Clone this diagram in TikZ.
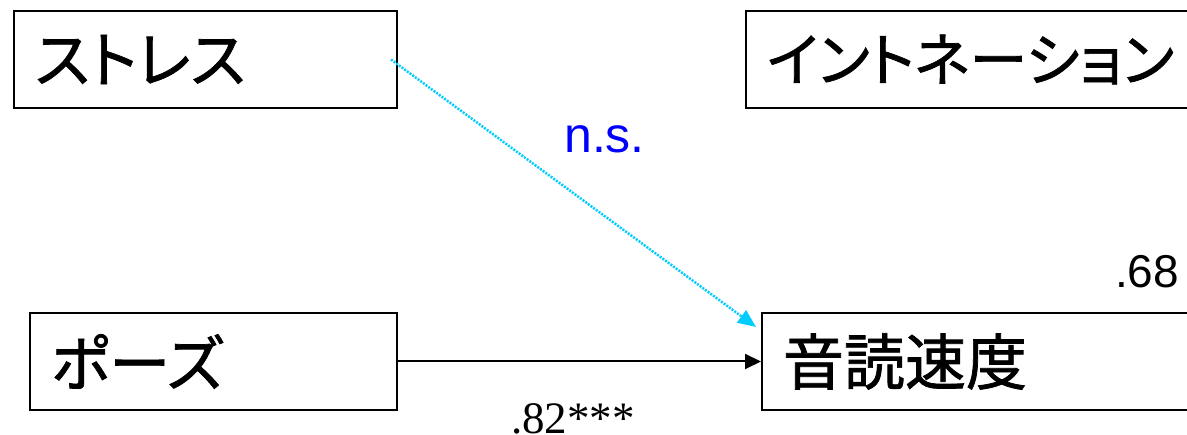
\documentclass[tikz,border=0pt]{standalone}
\usepackage{fontspec}
\setmainfont{Liberation Sans}
\newfontfamily\jpfont[RawFeature=+palt,FakeBold=1.2]{Noto Sans CJK JP}
\newfontfamily\timesfont{Liberation Serif}
\usetikzlibrary{arrows.meta}
\definecolor{nscyan}{RGB}{0,204,255}
\definecolor{nsblue}{RGB}{0,0,255}
\begin{document}
\begin{tikzpicture}[x=1pt,y=-1pt,
  varbox/.style={draw,line width=2pt,anchor=north west,minimum height=97pt,
    inner xsep=21pt,inner ysep=0pt,align=left,font=\jpfont\fontsize{61}{64}\selectfont},
  coeflabel/.style={anchor=base west,inner sep=0pt}]
\useasboundingbox (0,0) rectangle (1187,435);
\clip (0,0) rectangle (1187,435);
% variables
\node[varbox,text width=341pt] (stress) at (13,10) {ストレス};
\node[varbox,text width=470pt,font=\jpfont\fontsize{58}{64}\selectfont] (inton) at (745,10) {イントネーション};
\node[varbox,text width=325pt] (pause) at (29,312) {ポーズ};
\node[varbox,text width=430pt] (speed) at (761,312) {音読速度};
% paths
\draw[nscyan,line width=2.5pt,dash pattern=on 2pt off 1.3pt,-{Triangle[length=18pt,width=15pt]}]
  ([xshift=-7pt]stress.east) -- ([xshift=-5pt,yshift=-15pt]speed.north west);
\draw[line width=2pt,-{Triangle[length=16pt,width=15pt]}] (pause) -- (speed);
% estimates
\node[coeflabel,text=nsblue,font=\fontsize{50}{50}\selectfont] (ns) at (564,153) {n.s.};
\node[coeflabel,font=\fontsize{46}{46}\selectfont] (rsq) at (1115,288) {.68};
\node[coeflabel,font=\timesfont\fontsize{45}{45}\selectfont] (coef) at (511,434) {.82***};
\end{tikzpicture}
\end{document}
